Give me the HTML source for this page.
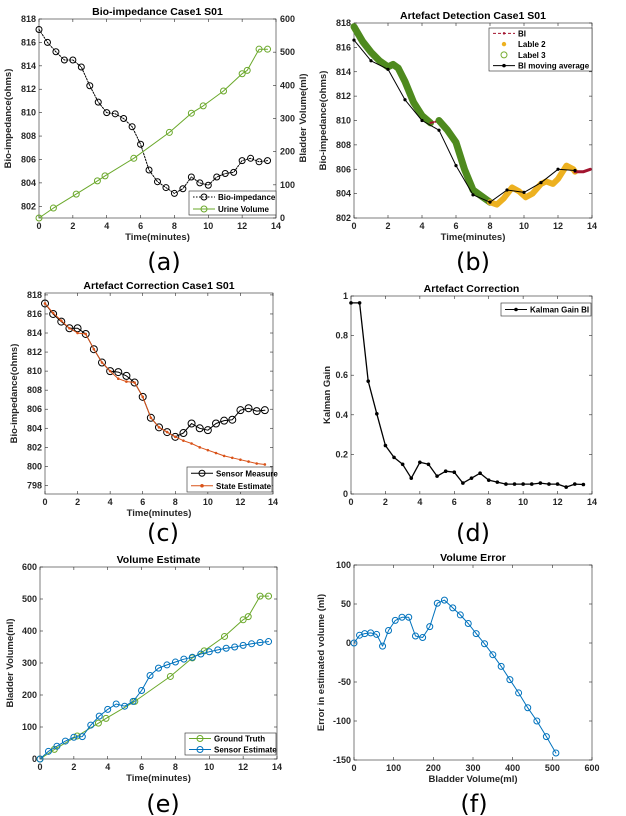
<!DOCTYPE html>
<html><head><meta charset="utf-8"><style>
html,body{margin:0;padding:0;background:#fff;}
svg{display:block;font-family:"Liberation Sans",Arial,sans-serif;}
.t{font-weight:bold;font-size:9px;fill:#262626}
.ti{font-weight:bold;font-size:10.5px;fill:#000}
.lab{font-weight:bold;font-size:9.5px;fill:#262626}
.cap{font-family:"DejaVu Sans",sans-serif;font-size:24px;fill:#000}
.lg{font-weight:bold;font-size:8px;fill:#000}
</style></head><body>
<svg id="fig" width="626" height="816" viewBox="0 0 626 816"></svg>
<script>
// ---------- data ----------
const biTimes=[0,0.5,1,1.5,2,2.5,3,3.5,4,4.5,5,5.5,6,6.5,7,7.5,8,8.5,9,9.5,10,10.5,11,11.5,12,12.5,13,13.5];
const biValues=[817.1,816.0,815.2,814.5,814.5,813.9,812.3,810.9,810.0,809.9,809.5,808.8,807.3,805.1,804.1,803.6,803.1,803.5,804.5,804.0,803.8,804.5,804.8,804.9,805.9,806.1,805.8,805.9];
const urineTimes=[0,0.85,2.2,3.45,3.9,5.6,7.7,9.0,9.7,10.9,12,12.3,13,13.5];
const urineValues=[0,30,72,112,127,180,258,316,338,383,435,445,509,509];
const maTimes=[0,1,2,3,4,5,6,7,8,9,10,11,12,13];
const maValues=[816.6,814.9,814.2,811.7,810.0,809.2,806.3,803.9,803.3,804.3,804.1,804.9,806.0,805.9];
const label3T1=[0,0.5,1,1.5,2,2.3,2.6,3,3.5,4,4.5];
const label3V1=[817.7,816.5,815.6,814.9,814.4,814.6,814.3,813.2,811.5,810.4,809.8];
const biRedT1=[4.5,4.8,5];
const biRedV1=[809.8,809.9,810.0];
const label3T2=[5,5.5,6,6.5,7,7.5,8];
const label3V2=[810.0,809.2,808.2,806.0,804.3,803.8,803.3];
const label2T=[8,8.4,8.8,9.3,9.7,10.1,10.5,11,11.3,11.7,12,12.5,12.9,13];
const label2V=[803.3,803.1,803.6,804.5,804.2,803.7,804.0,804.8,805.0,804.8,805.2,806.3,806.0,805.8];
const biRedT2=[13,13.5,13.9];
const biRedV2=[805.8,805.8,806.0];
const stateValues=[817.1,816.1,815.3,814.5,814.0,813.9,812.3,810.9,810.0,809.2,808.9,808.8,807.3,805.1,804.1,803.6,803.1,802.7,802.4,802.0,801.7,801.4,801.1,800.9,800.7,800.5,800.3,800.2];
const gainValues=[0.965,0.965,0.57,0.405,0.245,0.185,0.15,0.08,0.16,0.15,0.09,0.115,0.11,0.055,0.08,0.105,0.07,0.06,0.05,0.05,0.05,0.05,0.055,0.05,0.05,0.035,0.05,0.048];
const sensorVolValues=[0,24,40,56,68,70,106,134,155,172,165,180,214,261,284,294,303,312,318,328,335,341,346,350,355,360,364,367];
const errX=[0,14,27,42,57,72,87,104,121,138,155,173,191,210,228,249,268,288,308,329,350,371,393,415,438,461,485,509];
const errY=[0,10,12,13,11,-4,16,29,33,33,9,7,21,51,55,45,36,25,12,-1,-15,-30,-47,-64,-83,-100,-120,-141];
const timeTicks=[0,2,4,6,8,10,12,14];

const NS='http://www.w3.org/2000/svg';
const fig=document.getElementById('fig');
function el(tag,attrs,name,inter,parent,text){
  const e=document.createElementNS(NS,tag);
  for(const k in attrs)e.setAttribute(k,attrs[k]);
  
  
  if(text!==undefined)e.textContent=text;
  (parent||fig).appendChild(e);return e;
}
function axes(o){
  const g=el('g',{},o.name,false);
  const sx=v=>o.x0+(v-o.xmin)/(o.xmax-o.xmin)*(o.x1-o.x0);
  const sy=v=>o.y1-(v-o.ymin)/(o.ymax-o.ymin)*(o.y1-o.y0);
  el('rect',{x:o.x0,y:o.y0,width:o.x1-o.x0,height:o.y1-o.y0,fill:'#fff',stroke:'#262626','stroke-width':0.6},'plot-area',false,g);
  o.xt.forEach(v=>{const x=sx(v);
    el('line',{x1:x,x2:x,y1:o.y1,y2:o.y1-3,stroke:'#262626','stroke-width':0.6},'x-tick',false,g);
    el('line',{x1:x,x2:x,y1:o.y0,y2:o.y0+3,stroke:'#262626','stroke-width':0.6},'x-tick-top',false,g);
    el('text',{x:x,y:o.y1+11,'text-anchor':'middle',class:'t'},'x-tick-label',false,g,String(v));});
  o.yt.forEach(v=>{const y=sy(v);
    el('line',{x1:o.x0,x2:o.x0+3,y1:y,y2:y,stroke:'#262626','stroke-width':0.6},'y-tick',false,g);
    if(!o.noRightTicks)el('line',{x1:o.x1,x2:o.x1-3,y1:y,y2:y,stroke:'#262626','stroke-width':0.6},'y-tick-right',false,g);
    el('text',{x:o.x0-3,y:y+3,'text-anchor':'end',class:'t'},'y-tick-label',false,g,String(v));});
  el('text',{x:(o.x0+o.x1)/2,y:o.y0-4,'text-anchor':'middle',class:'ti'},'chart-title',false,g,o.title);
  if(o.xlabel)el('text',{x:(o.x0+o.x1)/2,y:o.y1+22,'text-anchor':'middle',class:'lab'},'x-axis-title',false,g,o.xlabel);
  el('text',{x:o.ylx,y:(o.y0+o.y1)/2,'text-anchor':'middle',class:'lab',transform:`rotate(-90 ${o.ylx} ${(o.y0+o.y1)/2})`},'y-axis-title',false,g,o.ylabel);
  el('text',{x:o.capx,y:o.capy,'text-anchor':'middle',class:'cap'},'panel-caption',false,g,o.cap);
  return {g,sx,sy};
}
function line(ax,xs,ys,opt,name){
  const pts=xs.map((x,i)=>ax.sx(x).toFixed(1)+','+ax.sy(ys[i]).toFixed(1)).join(' ');
  const a={points:pts,fill:'none',stroke:opt.c,'stroke-width':opt.w||1,'stroke-linejoin':'round','stroke-linecap':'round'};
  if(opt.dash)a['stroke-dasharray']=opt.dash;
  el('polyline',a,name,false,ax.g);
  if(opt.m)xs.forEach((x,i)=>{
    if(opt.m==='o')el('circle',{cx:ax.sx(x),cy:ax.sy(ys[i]),r:opt.r||3,fill:'none',stroke:opt.c,'stroke-width':1},name+'-point',false,ax.g);
    else el('circle',{cx:ax.sx(x),cy:ax.sy(ys[i]),r:opt.r||1.6,fill:opt.c},name+'-point',false,ax.g);
  });
}
function legend(ax,x0,y0,x1,y1,items){
  const g=el('g',{},'legend',false,ax.g);
  el('rect',{x:x0,y:y0,width:x1-x0,height:y1-y0,fill:'#fff',stroke:'#262626','stroke-width':0.6},'legend-box',false,g);
  const h=(y1-y0)/items.length;
  items.forEach((it,i)=>{const y=y0+h*(i+0.5);
    const ge=el('g',{},'legend-entry',false,g);
    if(it.line)el('line',{x1:x0+4,x2:x0+26,y1:y,y2:y,stroke:it.c,'stroke-width':1,'stroke-dasharray':it.dash||'none'},'legend-line',false,ge);
    if(it.m==='o')el('circle',{cx:x0+15,cy:y,r:3,fill:'none',stroke:it.c},'legend-marker',false,ge);
    if(it.m==='.')el('circle',{cx:x0+15,cy:y,r:it.r||1.8,fill:it.c},'legend-marker',false,ge);
    el('text',{x:x0+29,y:y+3,class:'lg'},'legend-label',false,ge,it.t);});
}
// (a)
const A=axes({name:'panel-a',x0:39,x1:276,y0:19,y1:218,xmin:0,xmax:14,ymin:801,ymax:818,xt:timeTicks,yt:[802,804,806,808,810,812,814,816,818],noRightTicks:true,title:'Bio-impedance Case1 S01',xlabel:'Time(minutes)',ylabel:'Bio-impedance(ohms)',ylx:11,cap:'(a)',capx:164,capy:270});
const Ar={g:A.g,sx:A.sx,sy:v=>218-v/600*199};
[0,100,200,300,400,500,600].forEach(v=>{const y=Ar.sy(v);
  el('line',{x1:276,x2:273,y1:y,y2:y,stroke:'#262626','stroke-width':0.6},'right-y-tick',false,A.g);
  el('text',{x:280,y:y+3,class:'t'},'right-y-tick-label',false,A.g,String(v));});
el('text',{x:306,y:118,'text-anchor':'middle',class:'lab',transform:'rotate(-90 306 118)'},'right-y-axis-title',false,A.g,'Bladder Volume(ml)');
line(A,biTimes,biValues,{c:'#000',dash:'1.5,1.5',m:'o'},'bio-impedance-series');
line(Ar,urineTimes,urineValues,{c:'#6AA82A',m:'o'},'urine-volume-series');
legend(A,189,191,276,215,[{line:1,c:'#000',dash:'1.5,1.5',m:'o',t:'Bio-impedance'},{line:1,c:'#6AA82A',m:'o',t:'Urine Volume'}]);
// (b)
const B=axes({name:'panel-b',x0:354,x1:592,y0:23,y1:218,xmin:0,xmax:14,ymin:802,ymax:818,xt:timeTicks,yt:[802,804,806,808,810,812,814,816,818],title:'Artefact Detection Case1 S01',xlabel:'Time(minutes)',ylabel:'Bio-impedance(ohms)',ylx:326,cap:'(b)',capx:473,capy:270});
line(B,label3T1,label3V1,{c:'#4E8A1E',w:7},'label3-series');
line(B,biRedT1,biRedV1,{c:'#A2142F',w:2,dash:'3,2'},'bi-series');
line(B,label3T2,label3V2,{c:'#4E8A1E',w:7},'label3-series');
line(B,label2T,label2V,{c:'#EDB120',w:6},'label2-series');
line(B,biRedT2,biRedV2,{c:'#A2142F',w:3},'bi-series');
line(B,maTimes,maValues,{c:'#000',w:1,m:'.'},'bi-moving-average');
legend(B,489,28,592,71,[{line:1,c:'#A2142F',dash:'3,2',m:'.',r:1.2,t:'BI'},{c:'#EDB120',m:'.',r:2.2,t:'Lable 2'},{c:'#77AC30',m:'o',t:'Label 3'},{line:1,c:'#000',m:'.',t:'BI moving average'}]);
// (c)
const C=axes({name:'panel-c',x0:45,x1:273,y0:293,y1:494,xmin:0,xmax:14,ymin:797.1,ymax:818.2,xt:timeTicks,yt:[798,800,802,804,806,808,810,812,814,816,818],title:'Artefact Correction Case1 S01',xlabel:'Time(minutes)',ylabel:'Bio-impedance(ohms)',ylx:17,cap:'(c)',capx:163,capy:541});
line(C,biTimes,biValues,{c:'#000',m:'o',r:3.5},'sensor-measure-series');
line(C,biTimes,stateValues,{c:'#D95319',m:'.',r:1.3},'state-estimate-series');
legend(C,187,467,272,492,[{line:1,c:'#000',m:'o',t:'Sensor Measure'},{line:1,c:'#D95319',m:'.',t:'State Estimate'}]);
// (d)
const D=axes({name:'panel-d',x0:351,x1:592,y0:296,y1:494,xmin:0,xmax:14,ymin:0,ymax:1,xt:timeTicks,yt:[0,0.2,0.4,0.6,0.8,1],title:'Artefact Correction',ylabel:'Kalman Gain',ylx:330,cap:'(d)',capx:473,capy:541});
line(D,biTimes,gainValues,{c:'#000',w:1.3,m:'.',r:1.8},'kalman-gain-series');
legend(D,501,303,591,316,[{line:1,c:'#000',m:'.',t:'Kalman Gain BI'}]);
// (e)
const E=axes({name:'panel-e',x0:40,x1:277,y0:567,y1:759,xmin:0,xmax:14,ymin:0,ymax:600,xt:timeTicks,yt:[0,100,200,300,400,500,600],title:'Volume Estimate',xlabel:'Time(minutes)',ylabel:'Bladder Volume(ml)',ylx:13,cap:'(e)',capx:163,capy:812});
line(E,urineTimes,urineValues,{c:'#6AA82A',m:'o'},'ground-truth-series');
line(E,biTimes,sensorVolValues,{c:'#0072BD',m:'o'},'sensor-estimate-series');
legend(E,185,733,276,755,[{line:1,c:'#6AA82A',m:'o',t:'Ground Truth'},{line:1,c:'#0072BD',m:'o',t:'Sensor Estimate'}]);
// (f)
const F=axes({name:'panel-f',x0:354,x1:592,y0:565,y1:760,xmin:0,xmax:600,ymin:-150,ymax:100,xt:[0,100,200,300,400,500,600],yt:[-150,-100,-50,0,50,100],title:'Volume Error',xlabel:'Bladder Volume(ml)',ylabel:'Error in estimated volume (ml)',ylx:324,cap:'(f)',capx:474,capy:812});
line(F,errX,errY,{c:'#0072BD',m:'o'},'volume-error-series');
</script>
</body></html>
